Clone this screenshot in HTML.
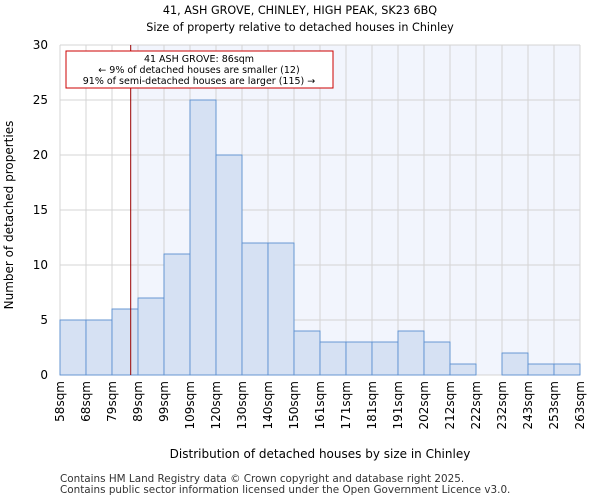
<!DOCTYPE html>
<html><head><meta charset="utf-8"><style>
body{margin:0;background:#fff;font-family:"DejaVu Sans","Liberation Sans",sans-serif;}
</style></head><body>
<svg width="600" height="500" xmlns="http://www.w3.org/2000/svg" font-family="DejaVu Sans, Liberation Sans, sans-serif">
<text x="300" y="14" text-anchor="middle" font-size="11.2">41, ASH GROVE, CHINLEY, HIGH PEAK, SK23 6BQ</text>
<text x="300" y="31" text-anchor="middle" font-size="11.2">Size of property relative to detached houses in Chinley</text>
<rect id="shade" y="45" height="330" fill="#f2f5fd"/>
<g id="grid"></g>
<g id="bars"></g>
<line id="marker" y1="45" y2="375" stroke="#990000" stroke-width="1"/>
<g>
<rect x="66" y="51" width="267" height="37" fill="#fff" stroke="#cc0000" stroke-width="1"/>
<text x="199" y="62" text-anchor="middle" font-size="9.5">41 ASH GROVE: 86sqm</text>
<text x="199" y="73" text-anchor="middle" font-size="9.5">← 9% of detached houses are smaller (12)</text>
<text x="199" y="84" text-anchor="middle" font-size="9.5">91% of semi-detached houses are larger (115) →</text>
</g>
<g id="yticks"></g>
<g id="xticks"></g>
<text x="320" y="458" text-anchor="middle" font-size="12">Distribution of detached houses by size in Chinley</text>
<text transform="translate(13,215) rotate(-90)" text-anchor="middle" font-size="12">Number of detached properties</text>
<text x="60" y="482" font-size="10.4" fill="#333">Contains HM Land Registry data © Crown copyright and database right 2025.</text>
<text x="60" y="493" font-size="10.4" fill="#333">Contains public sector information licensed under the Open Government Licence v3.0.</text>
</svg>
<script>
const categories=["58sqm","68sqm","79sqm","89sqm","99sqm","109sqm","120sqm","130sqm","140sqm","150sqm","161sqm","171sqm","181sqm","191sqm","202sqm","212sqm","222sqm","232sqm","243sqm","253sqm","263sqm"];
const counts=[5,5,6,7,11,25,20,12,12,4,3,3,3,4,3,1,0,2,1,1];
const yTicks=[0,5,10,15,20,25,30];
const markerValue=86;
const edgeValues=[58,68,79,89,99,109,120,130,140,150,161,171,181,191,202,212,222,232,243,253,263];
const X0=60,X1=580,Y0=375,Y1=45,YMAX=30;
const NS="http://www.w3.org/2000/svg";
const bw=(X1-X0)/counts.length;
const xPos=i=>X0+i*bw;
const yPos=v=>Y0-(v/YMAX)*(Y0-Y1);
function valToX(v){for(let i=0;i<edgeValues.length-1;i++){if(v>=edgeValues[i]&&v<=edgeValues[i+1])return xPos(i)+(v-edgeValues[i])/(edgeValues[i+1]-edgeValues[i])*bw;}return X0;}
const mx=valToX(markerValue)+0.5;
const sh=document.getElementById('shade');sh.setAttribute('x',mx);sh.setAttribute('width',X1-mx);
const mk=document.getElementById('marker');mk.setAttribute('x1',mx);mk.setAttribute('x2',mx);
const grid=document.getElementById('grid');
function mkEl(t,a,p){const e=document.createElementNS(NS,t);for(const k in a)e.setAttribute(k,a[k]);p.appendChild(e);return e;}
for(let i=0;i<=counts.length;i++){const l=mkEl('line',{x1:xPos(i),x2:xPos(i),y1:Y1,y2:Y0,stroke:'#d4d4d4'},grid);

}
const yt=document.getElementById('yticks');
yTicks.forEach(v=>{const l=mkEl('line',{x1:X0,x2:X1,y1:yPos(v),y2:yPos(v),stroke:'#d4d4d4'},grid);


const t=mkEl('text',{x:X0-12,y:yPos(v)+4,'text-anchor':'end','font-size':'12'},yt);t.textContent=v;

});
const bars=document.getElementById('bars');
counts.forEach((c,i)=>{const r=mkEl('rect',{x:xPos(i),y:yPos(c),width:bw,height:Y0-yPos(c),fill:'#d6e1f3',stroke:'#5b8fd0','stroke-width':0.9},bars);

});
const xt=document.getElementById('xticks');
categories.forEach((c,i)=>{const x=xPos(i);const t=mkEl('text',{transform:`translate(${x+4},381) rotate(-90)`,'text-anchor':'end','font-size':'12'},xt);t.textContent=c;

});
</script>
</body></html>
